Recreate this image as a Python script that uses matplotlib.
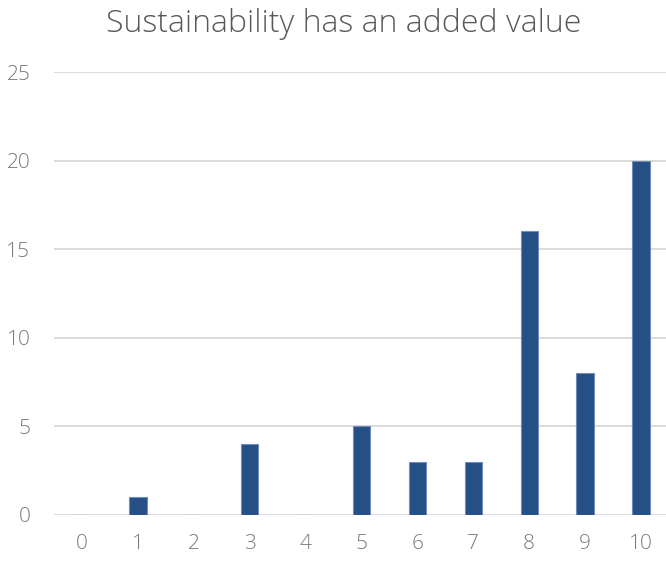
import matplotlib
matplotlib.use("Agg")
import matplotlib.pyplot as plt

categories = ["0", "1", "2", "3", "4", "5", "6", "7", "8", "9", "10"]
counts = [0, 1, 0, 4, 0, 5, 3, 3, 16, 8, 20]
y_ticks = [0, 5, 10, 15, 20, 25]
title = "Sustainability has an added value"

plt.rcParams["font.family"] = ["Open Sans", "DejaVu Sans"]

fig = plt.figure(figsize=(6.66, 5.61), dpi=100)
ax = fig.add_axes([54 / 666, 46 / 561, 615 / 666, 443 / 561])

x = list(range(len(categories)))
ax.bar(x, counts, width=0.31, color="#264f85", edgecolor="#6f8db8",
       linewidth=0.8, zorder=3)

ax.set_xlim(-0.5, 10.5)
ax.set_ylim(0, 25)
ax.set_xticks(x)
ax.set_xticklabels(categories)
ax.set_yticks(y_ticks)
ax.set_yticklabels([str(v) for v in y_ticks])

ax.grid(axis="y", color="#d9d9d9", linewidth=1.3, zorder=0)
ax.set_axisbelow(True)
for s in ax.spines.values():
    s.set_visible(False)

ax.tick_params(axis="both", length=0, labelsize=15, labelcolor="#7a7a7a")
ax.tick_params(axis="x", pad=14)
ax.tick_params(axis="y", pad=17)
for lbl in ax.get_xticklabels() + ax.get_yticklabels():
    lbl.set_fontweight("light")

fig.text(0.516, 0.958, title, ha="center", va="center", fontsize=23,
         color="#595959", fontweight="light")

fig.savefig("out.png", dpi=100)
